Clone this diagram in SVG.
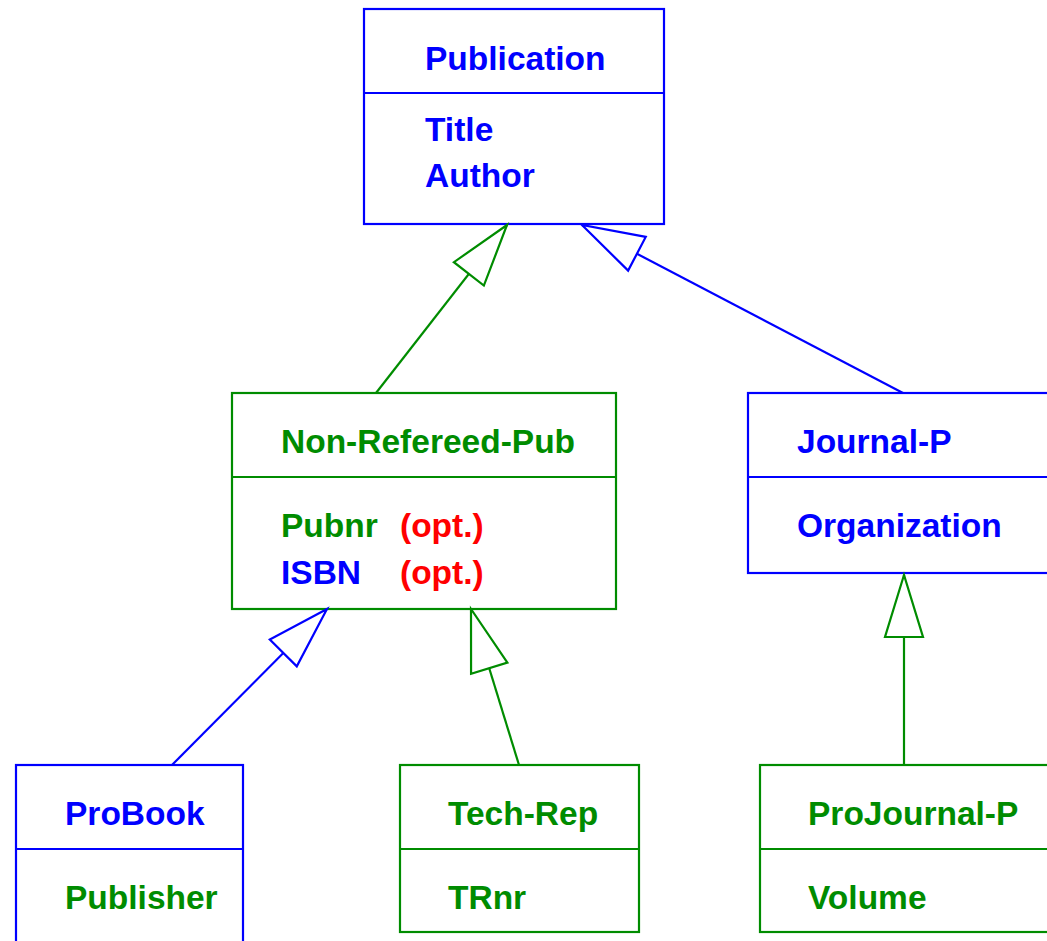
<svg xmlns="http://www.w3.org/2000/svg" width="1047" height="941" viewBox="0 0 1047 941">
<style>
text{font-family:"Liberation Sans",Arial,sans-serif;font-weight:bold;font-size:33.5px}
.b{fill:#0000ff}.g{fill:#008c00}.r{fill:#ff0000}
.bx{fill:#fff;stroke-width:2.2}
.sb{stroke:#0000ff}.sg{stroke:#008c00}
.ln{fill:none;stroke-width:2.2}
</style>
<defs>
<marker id="tg" markerUnits="userSpaceOnUse" viewBox="-66 -23 70 46" refX="0" refY="0" markerWidth="70" markerHeight="46" orient="auto" overflow="visible"><path d="M0,0 L-62,-19 L-62,19 Z" fill="#fff" stroke="#008c00" stroke-width="2.2"/></marker>
<marker id="tb" markerUnits="userSpaceOnUse" viewBox="-66 -23 70 46" refX="0" refY="0" markerWidth="70" markerHeight="46" orient="auto" overflow="visible"><path d="M0,0 L-62,-19 L-62,19 Z" fill="#fff" stroke="#0000ff" stroke-width="2.2"/></marker>
</defs>
<g id="publication">
<rect class="bx sb" x="364" y="9" width="300" height="215"/>
<line class="ln sb" x1="364" y1="93" x2="664" y2="93"/>
<text class="b" x="425" y="70">Publication</text>
<text class="b" x="425" y="141">Title</text>
<text class="b" x="425" y="187">Author</text>
</g>
<g id="non-refereed-pub">
<rect class="bx sg" x="232" y="393" width="384" height="216"/>
<line class="ln sg" x1="232" y1="477" x2="616" y2="477"/>
<text class="g" x="281" y="453">Non-Refereed-Pub</text>
<text class="g" x="281" y="537">Pubnr</text>
<text class="r" x="400" y="537">(opt.)</text>
<text class="b" x="281" y="584">ISBN</text>
<text class="r" x="400" y="584">(opt.)</text>
</g>
<g id="journal-p">
<rect class="bx sb" x="748" y="393" width="320" height="180"/>
<line class="ln sb" x1="748" y1="477" x2="1068" y2="477"/>
<text class="b" x="797" y="453">Journal-P</text>
<text class="b" x="797" y="537">Organization</text>
</g>
<g id="probook">
<rect class="bx sb" x="16" y="765" width="227" height="200"/>
<line class="ln sb" x1="16" y1="849" x2="243" y2="849"/>
<text class="b" x="65" y="825">ProBook</text>
<text class="g" x="65" y="909">Publisher</text>
</g>
<g id="tech-rep">
<rect class="bx sg" x="400" y="765" width="239" height="167"/>
<line class="ln sg" x1="400" y1="849" x2="639" y2="849"/>
<text class="g" x="448" y="825">Tech-Rep</text>
<text class="g" x="448" y="909">TRnr</text>
</g>
<g id="projournal-p">
<rect class="bx sg" x="760" y="765" width="310" height="167"/>
<line class="ln sg" x1="760" y1="849" x2="1070" y2="849"/>
<text class="g" x="808" y="825">ProJournal-P</text>
<text class="g" x="808" y="909">Volume</text>
</g>
<g id="connectors">
<line class="ln sg" x1="376" y1="393" x2="507" y2="225" marker-end="url(#tg)"/>
<line class="ln sb" x1="903" y1="393" x2="582" y2="225" marker-end="url(#tb)"/>
<line class="ln sb" x1="172" y1="765" x2="327" y2="609" marker-end="url(#tb)"/>
<line class="ln sg" x1="519" y1="765" x2="471" y2="609" marker-end="url(#tg)"/>
<line class="ln sg" x1="904" y1="765" x2="904" y2="575" marker-end="url(#tg)"/>
</g>
</svg>
